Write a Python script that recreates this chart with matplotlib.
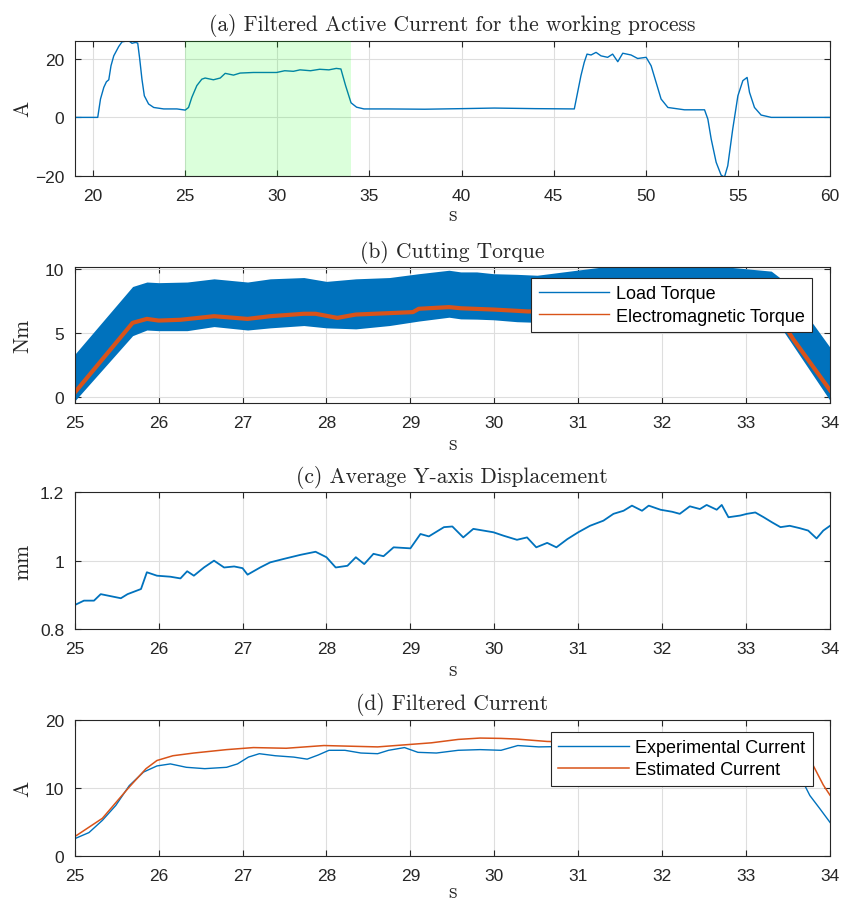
import matplotlib
matplotlib.use("Agg")
import matplotlib.pyplot as plt
from matplotlib.lines import Line2D
from matplotlib import font_manager

# ---------------- data ----------------
# (a) Filtered Active Current for the working process
a_t = [19.0, 20.25, 20.4, 20.58, 20.72, 20.85, 20.97, 21.12, 21.39, 21.57, 21.93, 22.11, 22.29,
       22.42, 22.53, 22.65, 22.78, 23.01, 23.29, 23.83, 24.55, 25.0, 25.18, 25.36, 25.63, 25.9,
       26.08, 26.53, 26.9, 27.17, 27.62, 27.98, 28.7, 29.24, 29.96, 30.4, 30.87, 31.23, 31.8,
       32.3, 32.8, 33.2, 33.45, 33.7, 34.0, 34.3, 34.7, 36.0, 38.0, 40.0, 41.78, 44.0, 46.12,
       46.3, 46.48, 46.66, 46.81, 47.03, 47.3, 47.57, 47.93, 48.2, 48.48, 48.75, 49.2, 49.56,
       50.02, 50.29, 50.56, 50.83, 51.2, 52.1, 53.19, 53.37, 53.55, 53.82, 54.09, 54.27, 54.45,
       54.72, 55.0, 55.27, 55.5, 55.63, 55.9, 56.26, 56.81, 60.0]
a_cur = [0, 0, 6.3, 10.3, 12.2, 12.9, 17.7, 21.1, 24.3, 25.9, 26.3, 25.4, 25.7,
         25.5, 20.0, 13.1, 7.4, 4.6, 3.4, 2.9, 2.9, 2.5, 3.4, 6.9, 10.9, 13.1,
         13.5, 12.9, 13.5, 15.1, 14.5, 15.2, 15.4, 15.4, 15.4, 16.0, 15.8, 16.3, 16.0,
         16.5, 16.3, 16.8, 16.6, 11.0, 5.0, 3.5, 2.9, 2.9, 2.8, 3.0, 3.2, 3.0, 2.9,
         8.6, 14.3, 18.9, 21.7, 21.4, 22.3, 21.1, 20.6, 21.7, 19.1, 22.0, 21.4, 20.2,
         20.6, 17.7, 12.0, 6.3, 3.4, 2.6, 2.6, -0.6, -7.4, -15.4, -19.8, -20.5, -16.6,
         -4.0, 7.4, 12.6, 13.7, 8.6, 3.4, 0.8, 0.0, 0.0]
a_span = [25, 34]

# (b) Cutting Torque
b_t = [25.0, 25.69, 25.86, 26.0, 26.34, 26.66, 27.06, 27.33, 27.73, 28.0, 28.35, 28.75, 29.1,
       29.46, 29.6, 29.79, 29.99, 30.27, 30.51, 30.98, 31.26, 31.86, 32.65, 33.3, 33.4, 34.0]
load_upper = [3.3, 8.6, 8.95, 8.9, 8.95, 9.2, 8.95, 9.2, 9.3, 9.0, 9.2, 9.3, 9.6,
              9.87, 9.74, 9.74, 9.6, 9.55, 9.48, 9.87, 10.1, 10.2, 10.2, 9.8, 9.3, 3.85]
load_lower = [-0.34, 4.76, 5.2, 5.15, 5.15, 5.47, 5.2, 5.37, 5.55, 5.37, 5.29, 5.55, 5.9,
              6.2, 6.07, 6.05, 6.0, 5.85, 5.8, 5.9, 6.0, 6.1, 6.1, 6.5, 5.55, -0.3]
em_t = [25.0, 25.69, 25.86, 26.0, 26.26, 26.66, 27.06, 27.33, 27.73, 27.87, 28.13, 28.35, 28.75,
        29.03, 29.1, 29.46, 29.6, 29.79, 29.99, 30.27, 30.4, 31.0, 31.5, 32.0, 32.5, 33.0,
        33.35, 33.56, 34.0]
em_torque = [0.31, 5.76, 6.07, 5.94, 6.0, 6.28, 6.07, 6.28, 6.47, 6.47, 6.15, 6.41, 6.52,
             6.6, 6.86, 6.99, 6.9, 6.85, 6.8, 6.7, 6.65, 6.7, 6.9, 7.0, 7.0, 6.9,
             6.7, 4.5, 0.5]

# (c) Average Y-axis Displacement
c_t = [25.0, 25.11, 25.23, 25.31, 25.43, 25.55, 25.63, 25.79, 25.86, 25.98, 26.14, 26.26, 26.34,
       26.42, 26.54, 26.66, 26.78, 26.9, 27.0, 27.06, 27.21, 27.33, 27.49, 27.69, 27.87, 28.0,
       28.11, 28.25, 28.35, 28.45, 28.56, 28.68, 28.8, 29.0, 29.12, 29.22, 29.4, 29.5, 29.63,
       29.75, 29.87, 29.99, 30.11, 30.27, 30.39, 30.5, 30.63, 30.74, 30.87, 31.0, 31.14, 31.3,
       31.42, 31.54, 31.64, 31.76, 31.84, 31.98, 32.12, 32.21, 32.33, 32.45, 32.53, 32.65, 32.71,
       32.79, 32.93, 33.01, 33.11, 33.21, 33.31, 33.41, 33.52, 33.64, 33.74, 33.84, 33.92, 34.0]
c_disp = [0.870, 0.883, 0.883, 0.902, 0.896, 0.890, 0.902, 0.917, 0.966, 0.956, 0.953, 0.948, 0.969,
          0.956, 0.980, 1.000, 0.980, 0.983, 0.978, 0.959, 0.980, 0.995, 1.005, 1.017, 1.026, 1.010,
          0.980, 0.985, 1.010, 0.990, 1.020, 1.013, 1.039, 1.036, 1.078, 1.071, 1.098, 1.100, 1.068,
          1.093, 1.088, 1.083, 1.073, 1.061, 1.068, 1.039, 1.052, 1.039, 1.063, 1.083, 1.102, 1.117,
          1.137, 1.146, 1.161, 1.146, 1.161, 1.149, 1.143, 1.137, 1.159, 1.151, 1.163, 1.149, 1.163,
          1.127, 1.132, 1.137, 1.141, 1.127, 1.112, 1.098, 1.102, 1.095, 1.088, 1.065, 1.088, 1.102]

# (d) Filtered Current
d_t_exp = [25.0, 25.17, 25.33, 25.49, 25.65, 25.82, 25.98, 26.14, 26.33, 26.55, 26.81, 26.94, 27.07,
           27.2, 27.39, 27.61, 27.77, 27.9, 28.03, 28.22, 28.41, 28.61, 28.74, 28.93, 29.09, 29.31,
           29.57, 29.83, 30.08, 30.28, 30.53, 31.0, 31.5, 32.0, 32.5, 33.0, 33.4, 33.68, 33.76,
           33.88, 34.0]
d_exp = [2.5, 3.4, 5.2, 7.4, 10.3, 12.3, 13.2, 13.5, 13.0, 12.8, 13.0, 13.5, 14.5,
         15.0, 14.7, 14.5, 14.2, 14.8, 15.5, 15.5, 15.1, 15.0, 15.5, 15.9, 15.2, 15.1,
         15.5, 15.6, 15.5, 16.2, 16.0, 16.1, 16.3, 16.2, 16.1, 15.8, 14.5, 10.8, 8.85,
         6.9, 4.9]
d_t_est = [25.0, 25.33, 25.65, 25.85, 25.98, 26.17, 26.42, 26.81, 27.13, 27.52, 27.97, 28.61, 29.25,
           29.57, 29.83, 30.08, 30.27, 30.63, 31.0, 31.5, 32.0, 32.5, 33.0, 33.4, 33.79, 33.92, 34.0]
d_est = [2.8, 5.5, 10.1, 12.8, 14.0, 14.7, 15.1, 15.6, 15.9, 15.8, 16.2, 16.0, 16.6,
         17.1, 17.3, 17.25, 17.15, 16.8, 16.7, 16.6, 16.5, 16.4, 16.2, 15.6, 13.5, 10.4, 8.9]

titles = ["(a) Filtered Active Current for the working process", "(b) Cutting Torque",
          "(c) Average Y-axis Displacement", "(d) Filtered Current"]
ylabels = ["A", "Nm", "mm", "A"]

# ---------------- style ----------------
BLUE = "#0072BD"
ORANGE = "#D95319"
DARK = "#262626"
avail = {f.name for f in font_manager.fontManager.ttflist}
SANS = "Liberation Sans" if "Liberation Sans" in avail else "DejaVu Sans"
SERIF = "cmr10" if "cmr10" in avail else "DejaVu Serif"
plt.rcParams["font.family"] = [SANS, "DejaVu Sans"]
plt.rcParams["axes.unicode_minus"] = True

fig = plt.figure(figsize=(8.43, 9.04), dpi=100)
W, H = 843.0, 904.0
left_px, right_px = 74.7, 830.0
boxes = [(41.7, 176.7), (268.3, 404.0), (493.3, 630.0), (720.7, 856.7)]
axes = []
for top, bot in boxes:
    ax = fig.add_axes([left_px / W, 1 - bot / H, (right_px - left_px) / W, (bot - top) / H])
    axes.append(ax)

def style(ax, title, ylabel, xlabelpad=2):
    ax.grid(True, color="#dedede", linewidth=0.8)
    ax.set_axisbelow(True)
    for s in ax.spines.values():
        s.set_color(DARK)
        s.set_linewidth(0.8)
    ax.tick_params(direction="in", length=4, width=0.8, colors=DARK, labelsize=12.5,
                   top=True, right=True)
    ax.tick_params(axis="x", pad=9)
    ax.tick_params(axis="y", pad=7.5)
    for lab in ax.get_xticklabels() + ax.get_yticklabels():
        lab.set_color(DARK)
    ax.set_title(title, family=SERIF, fontsize=15.5, color=DARK, pad=7.5)
    ax.set_xlabel("s", family=SERIF, fontsize=15.5, color=DARK, labelpad=xlabelpad)
    ax.set_ylabel(ylabel, family=SERIF, fontsize=15.5, color=DARK)
    ax.yaxis.set_label_coords(-0.056, 0.5)

LEG_KW = dict(loc="upper right", fancybox=False, framealpha=1, edgecolor=DARK,
              fontsize=13, handlelength=3.9, handletextpad=0.37, labelspacing=0.3,
              borderpad=0.4, borderaxespad=0)

# (a)
ax = axes[0]
ax.plot(a_t, a_cur, color=BLUE, linewidth=1.0)
ax.axvspan(a_span[0], a_span[1], color=(0.0, 1.0, 0.0), alpha=0.14, linewidth=0, zorder=3)
ax.set_xlim(19, 60)
ax.set_ylim(-20, 26.3)
ax.set_xticks(range(20, 61, 5))
ax.set_yticks([-20, 0, 20])
style(ax, titles[0], ylabels[0], xlabelpad=1)

# (b)
ax = axes[1]
ax.fill_between(b_t, load_lower, load_upper, color=BLUE, linewidth=0)
ax.plot(em_t, em_torque, color=ORANGE, linewidth=3.0)
ax.set_xlim(25, 34)
ax.set_ylim(-0.5, 10.1)
ax.set_xticks(range(25, 35))
ax.set_yticks([0, 5, 10])
style(ax, titles[1], ylabels[1])
hb = [Line2D([], [], color=BLUE, linewidth=1.0), Line2D([], [], color=ORANGE, linewidth=1.0)]
leg = ax.legend(hb, ["Load Torque", "Electromagnetic Torque"],
                bbox_to_anchor=(0.976, 0.921), **LEG_KW)
leg.get_frame().set_linewidth(0.8)

# (c)
ax = axes[2]
ax.plot(c_t, c_disp, color=BLUE, linewidth=1.3)
ax.set_xlim(25, 34)
ax.set_ylim(0.8, 1.2)
ax.set_xticks(range(25, 35))
ax.set_yticks([0.8, 1.0, 1.2])
ax.set_yticklabels(["0.8", "1", "1.2"])
style(ax, titles[2], ylabels[2])

# (d)
ax = axes[3]
ax.plot(d_t_exp, d_exp, color=BLUE, linewidth=1.0, label="Experimental Current")
ax.plot(d_t_est, d_est, color=ORANGE, linewidth=1.1, label="Estimated Current")
ax.set_xlim(25, 34)
ax.set_ylim(0, 20)
ax.set_xticks(range(25, 35))
ax.set_yticks([0, 10, 20])
style(ax, titles[3], ylabels[3], xlabelpad=-1)
leg = ax.legend(bbox_to_anchor=(0.977, 0.912), **LEG_KW)
leg.get_frame().set_linewidth(0.8)

fig.savefig("out.png", dpi=100)
